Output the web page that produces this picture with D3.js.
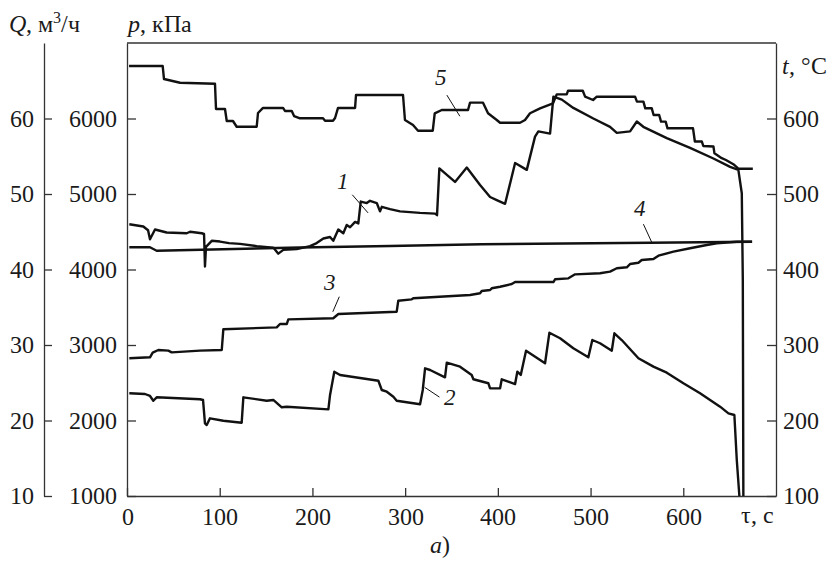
<!DOCTYPE html>
<html><head><meta charset="utf-8">
<script src="https://cdn.jsdelivr.net/npm/d3@7"></script>
<style>
@font-face{font-family:"ChartSerif";font-style:normal;font-weight:400;src:local("Liberation Serif"),local("LiberationSerif"),local("Liberation Serif Regular"),local("LiberationSerif-Regular");}
@font-face{font-family:"ChartSerif";font-style:italic;font-weight:400;src:local("Liberation Serif Italic"),local("LiberationSerif-Italic");}
html,body{margin:0;padding:0;background:#fff;}
</style></head>
<body><svg id="chart" width="839" height="566"></svg>
<script>
// τ (s) domain and ticks
const tauTicks = [0,100,200,300,400,500,600];
const qTicks = [10,20,30,40,50,60];
const pTicks = [1000,2000,3000,4000,5000,6000];
const tTicks = [100,200,300,400,500,600];

// Curve 1: flow Q, m3/h  [τ, Q]
const curve1 = [[2.5,46.0],[17.6,45.7],[22.7,45.2],[24.8,44.0],[30.2,45.3],[42.8,44.9],[64.4,44.8],[68,45.0],[80.6,44.8],[83.1,44.7],[84.1,40.4],[85.2,43.0],[91.4,43.8],[100.3,43.7],[110,43.5],[121.9,43.4],[139.9,43.1],[157.8,42.9],[163.2,42.1],[168.6,42.6],[183.1,42.7],[197.4,43.1],[204.6,43.5],[211.8,44.1],[219,44.3],[222.5,43.8],[227.9,45.3],[233.3,44.8],[237,45.9],[240.6,45.6],[246,46.3],[249.5,46.1],[252.1,49.0],[258.6,48.8],[262.1,49.1],[269.4,48.8],[272.9,47.7],[274.8,48.3],[283.7,48.0],[294.5,47.7],[316.1,47.5],[332.3,47.4],[334.4,47.2],[336.9,53.4],[353.8,51.6],[366.5,53.5],[380.8,51.2],[391.6,49.6],[398.8,49.2],[407.8,48.7],[418.6,54.1],[431.2,53.2],[440.1,57.6],[443.7,58.3],[456.3,58.0],[459.9,62.9],[469,62.5],[481.4,61.4],[503,60.0],[521,58.9],[528.3,58.1],[542.6,58.3],[549.9,59.6],[556.9,58.9],[582.2,57.4],[607.3,56.1],[632.5,54.7],[650.5,53.6],[659.4,53.2],[663.1,50.1],[664.2,38.6],[664.8,10]];

// Curve 2: pressure p, kPa  [τ, p]
const curve2 = [[2.5,2360],[19.4,2351],[24.8,2325],[28.4,2262],[32,2307],[78.7,2281],[82,2272],[84.1,1963],[86,1940],[89.5,2029],[103.9,1997],[123.7,1971],[125.5,2307],[150.7,2262],[157.8,2272],[166.9,2175],[172.3,2183],[217.2,2148],[219,2338],[223.6,2646],[229.8,2603],[258.6,2550],[271.1,2527],[274.8,2404],[280.2,2381],[287.3,2315],[290.9,2262],[308.8,2228],[316.1,2215],[319,2404],[321.5,2691],[326.9,2669],[343,2572],[344.9,2766],[359.2,2713],[371.8,2603],[373.6,2546],[389.8,2493],[391.6,2426],[402.4,2426],[404.2,2546],[418.6,2483],[421,2646],[424.7,2603],[430.4,2925],[450.9,2758],[455.6,3163],[467.1,3089],[481.4,2956],[497.6,2837],[501.9,3066],[510.2,3023],[522.9,2925],[525.7,3155],[533.6,3066],[551.6,2824],[567.8,2713],[582.2,2633],[600.1,2493],[618.1,2360],[639.7,2183],[648.7,2095],[655.1,2073],[657.7,1477],[660.5,1000]];

// Curve 3: temperature t, °C  [τ, t]
const curve3 = [[2.5,282.4],[24.8,283.7],[27.7,289.8],[33.8,293.4],[44.6,292.5],[48.2,290.3],[78.7,292.5],[102.2,293.4],[103.9,320.8],[161.5,323.4],[165,327.8],[172.3,327.8],[174,334],[222.5,335.4],[228,341.1],[290.9,344.1],[292.6,358.7],[307.1,360.5],[308.8,361.9],[370,366.2],[380.8,368.5],[382.6,371.5],[391.6,372.8],[393.4,375.1],[402.4,377.2],[415,380.8],[418.6,383.4],[459.9,383.4],[461.7,387],[476.1,388.3],[483.3,393.6],[510.2,395],[521,397.1],[528.3,401.6],[539.1,402.9],[542.6,407.3],[551.6,409],[555.2,412.6],[567.8,413.9],[573.2,418.3],[589.4,423.6],[607.3,428.1],[625.3,432.4],[636.1,434.7],[657.7,436.8],[674.2,436.8]];

// Curve 4: temperature t, °C
const curve4 = [[2.5,429.4],[24.8,429.4],[32,424.9],[68,425.8],[186.6,429.1],[283.7,431.1],[382.6,433.4],[564.2,435.5],[674.2,436.8]];

// Curve 5: temperature t, °C
const curve5 = [[2.2,669.5],[38.5,669.5],[39.9,652.3],[57.2,647.4],[94.9,646.1],[96,612.6],[105.7,612.6],[107.6,596.7],[114.3,596.7],[118.3,589.1],[139.9,589.1],[141.3,607.3],[146.7,614],[168.3,614],[170.4,610],[177.7,610],[180.2,603.3],[186.6,600.3],[211.4,600.3],[213.6,597],[222.2,597],[224.4,600.7],[227.6,614],[246,614],[247,631.1],[297.7,631.1],[299.8,598],[308.5,591.4],[313.9,583.8],[329.8,583.8],[331.9,606.9],[339.5,611.3],[367.8,611.3],[370,621],[384,621],[389.4,606.9],[398.8,598],[402.4,594.4],[423.9,594.4],[429.3,598],[434.7,606.9],[445.5,613.5],[459.5,620.1],[463.5,632],[474.3,632],[475.7,636.8],[491.6,636.8],[494.1,628.9],[502.7,624.5],[506.7,628.9],[544.4,628.9],[548,628.9],[550,622.3],[557,622.3],[559,613.5],[566,613.5],[568,604.6],[574,604.6],[576,595.8],[581,595.8],[583,587],[610.5,587],[612.5,569.5],[620,569.5],[621.7,563.5],[632.5,563],[633.6,554],[641.5,547.5],[646,545],[654,539.5],[659.4,533.5],[675,533.5]];

// label positions (data units on t-scale) for curve numbers
const curveLabels = [
  {text:"1", tau:233, t:507, lead:[[243,499],[260,475]]},
  {text:"2", tau:348, t:221, lead:[[337,231],[321,244]]},
  {text:"3", tau:219, t:373, lead:[[229,364],[222,344]]},
  {text:"4", tau:553, t:471, lead:[[557,460],[566,436]]},
  {text:"5", tau:339, t:644, lead:[[345,631],[359,603]]}
];

const FONT = '"ChartSerif", "Liberation Serif", "Times New Roman", "DejaVu Serif", "Noto Serif", serif';
const svg = d3.select("#chart");
const L = 127, R = 776, T = 43, B = 496;
const x = d3.scaleLinear().domain([0,700]).range([L,R]);
const yQ = d3.scaleLinear().domain([10,70]).range([B,T]);
const yP = d3.scaleLinear().domain([1000,7000]).range([B,T]);
const yT = d3.scaleLinear().domain([100,700]).range([B,T]);

const axisColor = "#333";
const fs = "24px";
const fmt = d3.format("d");

function styleAxis(g){
  g.attr("font-family", null).attr("font-size", null);
  g.selectAll("path.domain").attr("stroke",axisColor).attr("stroke-width",1.3);
  g.selectAll(".tick line").attr("stroke",axisColor).attr("stroke-width",1.3);
  g.selectAll(".tick text").style("font-family",FONT).style("font-size",fs).attr("fill","#1a1a1a");
}
function txt(xx,yy,anchor,size){
  return svg.append("text").attr("x",xx).attr("y",yy).attr("text-anchor",anchor||"start")
    .style("font-family",FONT).style("font-size",size||fs).attr("fill","#1a1a1a");
}

// Q axis (outer left)
svg.append("g").attr("transform","translate(44,0)")
  .call(d3.axisLeft(yQ).tickValues(qTicks).tickFormat(fmt).tickSize(-8).tickSizeOuter(0).tickPadding(10))
  .call(styleAxis);
// p axis (frame left)
svg.append("g").attr("transform",`translate(${L},0)`)
  .call(d3.axisLeft(yP).tickValues(pTicks).tickFormat(fmt).tickSize(-9).tickSizeOuter(0).tickPadding(10))
  .call(styleAxis);
// t axis (right)
svg.append("g").attr("transform",`translate(${R},0)`)
  .call(d3.axisRight(yT).tickValues(tTicks).tickFormat(fmt).tickSize(-9).tickSizeOuter(0).tickPadding(7))
  .call(styleAxis);
// τ axis
svg.append("g").attr("transform",`translate(0,${B})`)
  .call(d3.axisBottom(x).tickValues(tauTicks).tickFormat(fmt).tickSize(-8).tickSizeOuter(0).tickPadding(12))
  .call(styleAxis);
// top frame
svg.append("line").attr("x1",L).attr("x2",R).attr("y1",T).attr("y2",T)
  .attr("stroke",axisColor).attr("stroke-width",1.3);

// Axis titles
const tq = txt(9,32);
tq.append("tspan").style("font-style","italic").text("Q");
tq.append("tspan").text(", м");
tq.append("tspan").attr("dy",-9).style("font-size","16px").text("3");
tq.append("tspan").attr("dy",9).text("/ч");
const tp = txt(128,32);
tp.append("tspan").style("font-style","italic").text("p");
tp.append("tspan").text(", кПа");
const tt = txt(782,74);
tt.append("tspan").style("font-style","italic").text("t");
tt.append("tspan").text(", °C");
txt(R-2,523,"end").text("τ, с");
const ta = txt(440,553,"middle");
ta.append("tspan").style("font-style","italic").text("а");
ta.append("tspan").text(")");

// curves
const lineQ = d3.line().x(d=>x(d[0])).y(d=>yQ(d[1]));
const lineP = d3.line().x(d=>x(d[0])).y(d=>yP(d[1]));
const lineT = d3.line().x(d=>x(d[0])).y(d=>yT(d[1]));
const curves = [[curve4,lineT],[curve3,lineT],[curve5,lineT],[curve2,lineP],[curve1,lineQ]];
curves.forEach(([data,gen])=>{
  svg.append("path").datum(data).attr("d",gen)
    .attr("fill","none").attr("stroke","#111").attr("stroke-width",2.4)
    .attr("stroke-linejoin","round").attr("stroke-linecap","butt");
});

// curve labels + leaders
curveLabels.forEach(c=>{
  txt(x(c.tau), yT(c.t), "middle", "23px").style("font-style","italic").text(c.text);
  svg.append("path").datum(c.lead).attr("d",lineT)
    .attr("fill","none").attr("stroke","#111").attr("stroke-width",1);
});
</script></body></html>
